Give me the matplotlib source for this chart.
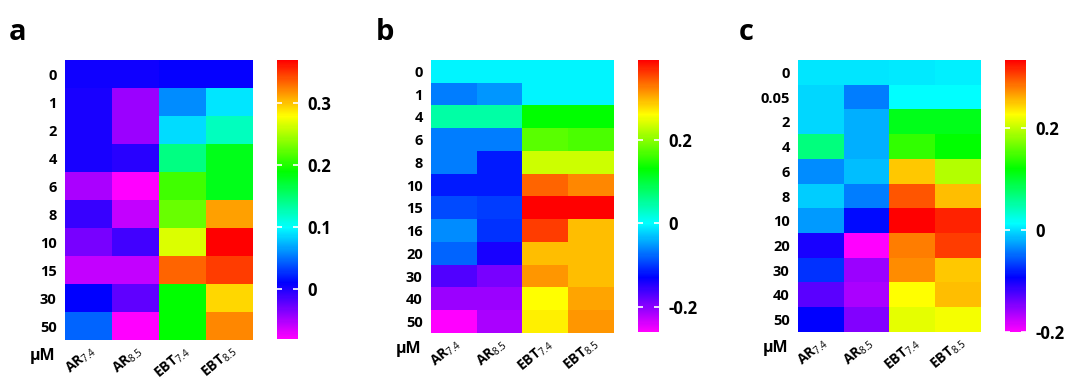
import numpy as np
import matplotlib
matplotlib.use("Agg")
import matplotlib.pyplot as plt
from matplotlib.colors import LinearSegmentedColormap
from matplotlib.transforms import ScaledTranslation

plt.rcParams["font.family"] = ["Open Sans", "DejaVu Sans"]
plt.rcParams["mathtext.fontset"] = "custom"
plt.rcParams["mathtext.rm"] = "Open Sans"
plt.rcParams["mathtext.bf"] = "Open Sans:bold"

columns = [r"$\mathbf{AR}_{\mathrm{7.4}}$", r"$\mathbf{AR}_{\mathrm{8.5}}$",
           r"$\mathbf{EBT}_{\mathrm{7.4}}$", r"$\mathbf{EBT}_{\mathrm{8.5}}$"]

# panel a
conc_a = ["0", "1", "2", "4", "6", "8", "10", "15", "30", "50"]
vals_a = [
    [0.005, 0.005, 0.008, 0.008],
    [0.001, -0.044, 0.060, 0.091],
    [0.001, -0.044, 0.087, 0.123],
    [0.001, -0.004, 0.145, 0.181],
    [-0.049, -0.080, 0.213, 0.181],
    [-0.008, -0.058, 0.226, 0.312],
    [-0.031, -0.013, 0.267, 0.370],
    [-0.058, -0.058, 0.334, 0.348],
    [0.010, -0.022, 0.190, 0.294],
    [0.046, -0.080, 0.190, 0.321],
]
range_a = (-0.08, 0.37)
ticks_a = [0, 0.1, 0.2, 0.3]

# panel b
conc_b = ["0", "1", "4", "6", "8", "10", "15", "16", "20", "30", "40", "50"]
vals_b = [
    [-0.006, -0.006, -0.006, -0.006],
    [-0.065, -0.052, -0.006, -0.006],
    [0.046, 0.046, 0.130, 0.130],
    [-0.065, -0.065, 0.176, 0.169],
    [-0.065, -0.117, 0.234, 0.234],
    [-0.117, -0.117, 0.338, 0.319],
    [-0.091, -0.098, 0.390, 0.390],
    [-0.059, -0.104, 0.358, 0.293],
    [-0.078, -0.143, 0.293, 0.293],
    [-0.169, -0.189, 0.312, 0.293],
    [-0.208, -0.208, 0.260, 0.306],
    [-0.260, -0.215, 0.267, 0.312],
]
range_b = (-0.26, 0.39)
ticks_b = [-0.2, 0, 0.2]

# panel c
conc_c = ["0", "0.05", "2", "4", "6", "8", "10", "20", "30", "40", "50"]
vals_c = [
    [0.003, 0.003, 0.005, 0.008],
    [-0.003, -0.040, 0.013, 0.013],
    [-0.003, -0.019, 0.109, 0.109],
    [0.067, -0.019, 0.141, 0.120],
    [-0.035, -0.013, 0.248, 0.194],
    [-0.008, -0.040, 0.296, 0.253],
    [-0.029, -0.088, 0.333, 0.317],
    [-0.104, -0.200, 0.280, 0.306],
    [-0.072, -0.157, 0.274, 0.248],
    [-0.131, -0.163, 0.226, 0.253],
    [-0.093, -0.147, 0.216, 0.221],
]
range_c = (-0.2, 0.333)
ticks_c = [-0.2, 0, 0.2]

cmap = LinearSegmentedColormap.from_list(
    "rb", ["#ff00ff", "#0000ff", "#00ffff", "#00ff00", "#ffff00", "#ff0000"])

W, H = 1067, 385
fig = plt.figure(figsize=(W / 100, H / 100), dpi=100)


def box(x0, y0, x1, y1):
    return [x0 / W, 1 - y1 / H, (x1 - x0) / W, (y1 - y0) / H]


def panel(letter, conc, vals, vrange, ticks, hm, cb, lx):
    ax = fig.add_axes(box(*hm))
    im = ax.imshow(np.array(vals), cmap=cmap, vmin=vrange[0], vmax=vrange[1],
                   aspect="auto", interpolation="nearest")
    for s in ax.spines.values():
        s.set_visible(False)
    ax.set_yticks(range(len(conc)))
    ax.set_yticklabels(conc, fontsize=10.5, fontweight="bold")
    ax.set_xticks(range(len(columns)))
    ax.set_xticklabels(columns, fontsize=10, rotation=40, ha="right",
                       rotation_mode="anchor")
    off = ScaledTranslation(0.1, 0, fig.dpi_scale_trans)
    for t in ax.get_xticklabels():
        t.set_transform(t.get_transform() + off)
    ax.tick_params(axis="y", length=0, pad=6)
    ax.tick_params(axis="x", length=0, pad=2)
    ax.text(-0.05, -0.03, "\u03bcM", transform=ax.transAxes, fontsize=11.5,
            fontweight="bold", ha="right", va="top")

    cax = fig.add_axes(box(*cb))
    cbar = fig.colorbar(im, cax=cax, ticks=ticks)
    cbar.outline.set_visible(False)
    cax.tick_params(direction="in", length=3.5, width=1.2, color="white",
                    left=True, right=True, labelsize=12, pad=7)
    cax.set_yticklabels([f"{t:g}" for t in ticks], fontweight="bold")

    fig.text(lx / W, 1 - 40 / H, letter, fontsize=21, fontweight="bold")


panel("a", conc_a, vals_a, range_a, ticks_a, (65, 60, 253, 340), (277, 60, 298, 339), 9)
panel("b", conc_b, vals_b, range_b, ticks_b, (431, 60, 614, 333), (638, 60, 659, 332), 376)
panel("c", conc_c, vals_c, range_c, ticks_c, (798, 60, 981, 332), (1005, 60, 1026, 332), 739)

fig.savefig("out.png", dpi=100)
